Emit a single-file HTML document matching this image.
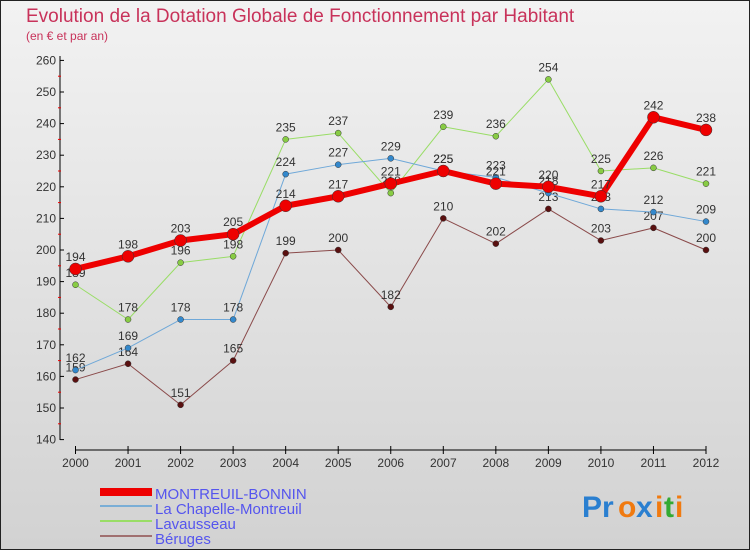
<!DOCTYPE html>
<html><head><meta charset="utf-8"><style>
body{margin:0}
svg{display:block;font-family:"Liberation Sans",sans-serif}
</style></head><body>
<svg id="c" width="750" height="550">
<defs><linearGradient id="bg" x1="0" y1="0" x2="0" y2="1"><stop offset="0" stop-color="#f2f2f2"/><stop offset="1" stop-color="#d2d2d2"/></linearGradient></defs>
<rect x="0.5" y="0.5" width="749" height="549" fill="url(#bg)" stroke="#222"/>
<text x="26" y="22" font-size="19" fill="#c8325a">Evolution de la Dotation Globale de Fonctionnement par Habitant</text>
<text x="26" y="40" font-size="12" fill="#c8325a">(en € et par an)</text>
<g id="axes"></g><g id="series"></g>
<g>
<rect x="100" y="488" width="52" height="8" fill="#e00"/>
<text x="155" y="499" font-size="15" fill="#5555ee">MONTREUIL-BONNIN</text>
<rect x="100" y="505" width="52" height="2" fill="#7aaed6"/>
<text x="155" y="514" font-size="15" fill="#5555ee">La Chapelle-Montreuil</text>
<rect x="100" y="520" width="52" height="2" fill="#99dd66"/>
<text x="155" y="529" font-size="15" fill="#5555ee">Lavausseau</text>
<rect x="100" y="535" width="52" height="2" fill="#a07070"/>
<text x="155" y="544" font-size="15" fill="#5555ee">Béruges</text>
</g>
<g font-size="30" font-weight="bold">
<text x="582" y="517" fill="#2a7fd0">Pr</text><text x="618" y="517" fill="#f07a10">o</text><text x="636" y="517" fill="#2a7fd0">x</text><text x="655" y="517" fill="#f07a10">i</text><text x="664" y="517" fill="#33aa33">t</text><text x="675" y="517" fill="#f07a10">i</text>
</g>
</svg>
<script>
const years=[2000,2001,2002,2003,2004,2005,2006,2007,2008,2009,2010,2011,2012];
const yTicks=[140,150,160,170,180,190,200,210,220,230,240,250,260];
const montreuil=[194,198,203,205,214,217,221,225,221,220,217,242,238];
const chapelle=[162,169,178,178,224,227,229,225,223,218,213,212,209];
const lavausseau=[189,178,196,198,235,237,218,239,236,254,225,226,221];
const beruges=[159,164,151,165,199,200,182,210,202,213,203,207,200];
const NS="http://www.w3.org/2000/svg";
const X=i=>75.5+i*(706-75.5)/(years.length-1);
const Y=v=>439.6-(v-140)*(439.6-60.4)/120;
function mk(p,t,a){const e=document.createElementNS(NS,t);for(const k in a)e.setAttribute(k,a[k]);p.appendChild(e);return e;}
const ax=document.getElementById('axes');
let yl=mk(ax,'line',{x1:60,y1:56,x2:60,y2:440,stroke:'#000'});


yTicks.forEach(v=>{
 mk(ax,'line',{x1:60,y1:Y(v),x2:64,y2:Y(v),stroke:'#000'});
 if(v<260)mk(ax,'line',{x1:58,y1:Y(v+5),x2:61,y2:Y(v+5),stroke:'#e00'});
 const t=mk(ax,'text',{x:56,y:Y(v)+4,'font-size':12,fill:'#333','text-anchor':'end'});
 t.textContent=v;
 
 
});
let xl=mk(ax,'line',{x1:75,y1:450,x2:706,y2:450,stroke:'#000'});


years.forEach((y,i)=>{
 mk(ax,'line',{x1:X(i),y1:446,x2:X(i),y2:454,stroke:'#000'});
 const t=mk(ax,'text',{x:X(i),y:467,'font-size':12,fill:'#333','text-anchor':'middle'});
 t.textContent=y;
 
 
});
const sg=document.getElementById('series');
function draw(data,name,color,w,dot,dotFill){
 const g=mk(sg,'g',{});
 
 
 mk(g,'polyline',{points:data.map((v,i)=>X(i)+','+Y(v)).join(' '),fill:'none',stroke:color,'stroke-width':w,'stroke-linejoin':'round'});
 data.forEach((v,i)=>{
  const c=mk(g,'circle',{cx:X(i),cy:Y(v),r:dot,fill:dotFill,stroke:'#333','stroke-width':0.5});
  
  
  const t=mk(g,'text',{x:X(i),y:Y(v)-8,'font-size':12,fill:'#333','text-anchor':'middle'});
  t.textContent=v;
  
  
 });
}
draw(beruges,'beruges','#8a4a4a',1,3,'#5a1010');
draw(lavausseau,'lavausseau','#99dd66',1,3,'#88cc44');
draw(chapelle,'chapelle','#6fa8d8',1,3,'#3388cc');
draw(montreuil,'montreuil','#ee0000',6,6,'#ee0000');
</script>
</body></html>
